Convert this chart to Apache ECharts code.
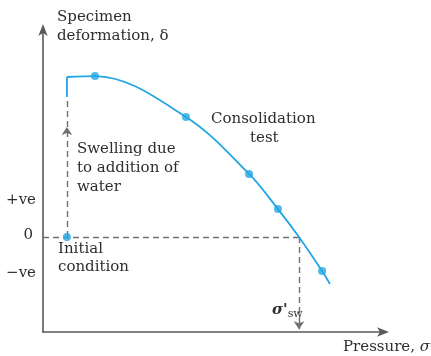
<!DOCTYPE html>
<html><head><meta charset="utf-8">
<script src="https://cdn.jsdelivr.net/npm/echarts@6/dist/echarts.min.js"></script>
<style>html,body{margin:0;padding:0;background:#fff}#c{width:431px;height:356px}</style>
</head><body><div id="c"></div>
<script>
// Curve (consolidation test) — pressure (arbitrary units) vs deformation
const curveX = [1.40, 3.04, 8.36, 12.05, 13.74, 14.97, 16.32, 16.78];
const curveY = [8.42, 8.47, 6.32, 3.32, 1.47, 0.00, -1.79, -2.47];
// Measured points (initial condition + test points)
const pointX = [1.40, 3.04, 8.36, 12.05, 13.74, 16.32];
const pointY = [0.00, 8.47, 6.32, 3.32, 1.47, -1.79];
// Swelling segment (solid part) at initial pressure
const swellX = [1.40, 1.40];
const swellY = [7.37, 8.42];
const swellPressure = 14.97;   // sigma'_sw, curve crosses zero
const axisMin = {x: 0, y: -5};
const axisMax = {x: 20, y: 11};

const txt = '#2e2e2e';
const font = '"DejaVu Serif", "Liberation Serif", serif';
const blue = '#22a6e3';
const dashC = '#707070';

const chart = echarts.init(document.getElementById('c'));
const curve = curveX.map((x, i) => [x, curveY[i]]);
const pts = pointX.map((x, i) => [x, pointY[i]]);
const swell = swellX.map((x, i) => [x, swellY[i]]);

chart.setOption({
  animation: false,
  grid: {left: 43, right: 46, top: 28, bottom: 24},
  xAxis: {type: 'value', min: axisMin.x, max: axisMax.x,
    axisLine: {show: true, onZero: false, symbol: ['none', 'arrow'], symbolSize: [7, 12], symbolOffset: [0, 4], lineStyle: {color: '#5a5a5a', width: 1.6}},
    axisTick: {show: false}, axisLabel: {show: false}, splitLine: {show: false}},
  yAxis: {type: 'value', min: axisMin.y, max: axisMax.y,
    axisLine: {show: true, onZero: false, symbol: ['none', 'arrow'], symbolSize: [7, 12], symbolOffset: [0, 4], lineStyle: {color: '#5a5a5a', width: 1.6}},
    axisTick: {show: false}, axisLabel: {show: false}, splitLine: {show: false}},
  series: [
    {type: 'lines', coordinateSystem: 'cartesian2d', silent: true, z: 1,
      lineStyle: {color: dashC, width: 1.4, type: [6, 4], opacity: 1},
      symbol: ['none', 'none'],
      data: [
        {coords: [[axisMin.x, 0], [swellPressure, 0]]},
        {coords: [[swellX[0], 5.79], [swellX[0], swellY[0]]]}
      ]},
    {type: 'lines', coordinateSystem: 'cartesian2d', silent: true, z: 1,
      lineStyle: {color: dashC, width: 1.4, type: [6, 4], opacity: 1},
      symbol: ['none', 'arrow'], symbolSize: 8,
      data: [
        {coords: [[swellX[0], 0], [swellX[0], 5.79]]},
        {coords: [[swellPressure, 0], [swellPressure, -4.85]]}
      ]},
    {type: 'line', data: swell, showSymbol: false, lineStyle: {color: blue, width: 1.8}, z: 2},
    {type: 'line', data: curve, smooth: 0.35, showSymbol: false, lineStyle: {color: blue, width: 1.8}, z: 2},
    {type: 'scatter', data: pts, symbolSize: 8, itemStyle: {color: blue}, z: 3}
  ],
  graphic: [
    {type: 'text', left: 57, top: 8, style: {text: 'Specimen\ndeformation, δ', font: '15px ' + font, fill: txt, lineHeight: 19}},
    {type: 'text', left: 211, top: 112, style: {text: 'Consolidation', font: '15px ' + font, fill: txt}},
    {type: 'text', left: 250, top: 131, style: {text: 'test', font: '15px ' + font, fill: txt}},
    {type: 'text', left: 77, top: 140, style: {text: 'Swelling due\nto addition of\nwater', font: '15px ' + font, fill: txt, lineHeight: 19}},
    {type: 'text', left: 58, top: 240, style: {text: 'Initial\ncondition', font: '15px ' + font, fill: txt, lineHeight: 18}},
    {type: 'text', right: 395, top: 193, style: {text: '+ve', font: '15px ' + font, fill: txt}},
    {type: 'text', right: 398, top: 228, style: {text: '0', font: '15px ' + font, fill: txt}},
    {type: 'text', right: 395, top: 266, style: {text: '−ve', font: '15px ' + font, fill: txt}},
    {type: 'text', left: 272, top: 303, style: {
      text: "{s|σ'}{b|sw}", fill: txt,
      rich: {s: {font: 'italic bold 15px ' + font, fill: txt}, b: {font: '11px ' + font, fill: txt, padding: [8, 0, 0, 0]}}}},
    {type: 'text', left: 343, top: 340, style: {
      text: "Pressure, {s|σ'}", font: '15px ' + font, fill: txt,
      rich: {s: {font: 'italic 15px ' + font, fill: txt}}}}
  ]
});
</script></body></html>
